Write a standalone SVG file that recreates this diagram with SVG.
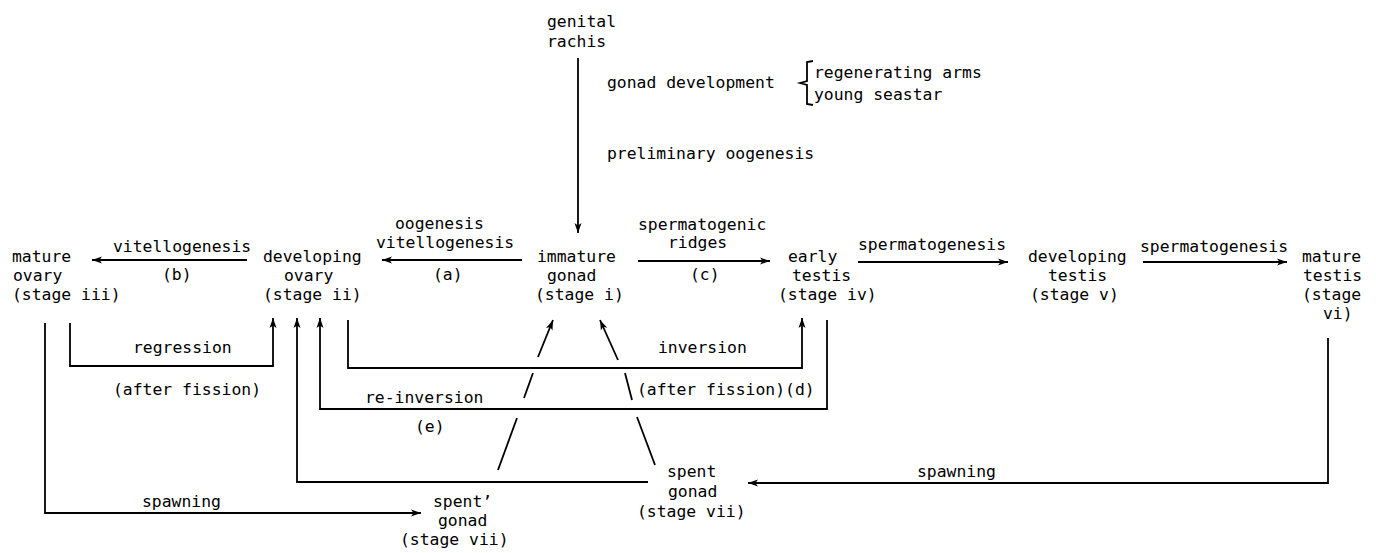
<svg xmlns="http://www.w3.org/2000/svg" width="1376" height="553" viewBox="0 0 1376 553">
<defs>
<marker id="ah" viewBox="0 0 10 8" refX="10" refY="4" markerWidth="10" markerHeight="8" markerUnits="userSpaceOnUse" orient="auto">
<path d="M0,0.5 L10,4 L0,7.5 L2.5,4 z" fill="#000"/>
</marker>
</defs>
<style>
text{font-family:"DejaVu Sans Mono","Liberation Mono",monospace;font-size:16.4px;fill:#000}
.c{fill:none;stroke:#000;stroke-width:1.8}
.a{marker-end:url(#ah)}
</style>
<rect width="1376" height="553" fill="#fff"/>
<g id="connectors">
<line class="c a" x1="578" y1="58" x2="578" y2="233"/>
<line class="c a" x1="247" y1="260" x2="92" y2="260"/>
<line class="c a" x1="522" y1="260" x2="382" y2="260"/>
<line class="c a" x1="638" y1="261" x2="770" y2="261"/>
<line class="c a" x1="858" y1="262" x2="1008" y2="262"/>
<line class="c a" x1="1143" y1="262" x2="1287" y2="262"/>
<path class="c a" d="M70,323 V366 H273 V318"/>
<path class="c a" d="M45,323 V513 H421"/>
<path class="c a" d="M348,320 V368 H802 V318"/>
<path class="c a" d="M827,320 V409 H320 V318"/>
<path class="c a" d="M648,482 H297 V318"/>
<path class="c a" d="M1328,338 V483 H748"/>
<line class="c" x1="498" y1="470" x2="517" y2="418"/>
<line class="c" x1="524" y1="398" x2="533" y2="373"/>
<line class="c a" x1="538" y1="357" x2="553" y2="320"/>
<line class="c" x1="655" y1="465" x2="637" y2="417"/>
<line class="c" x1="632" y1="400" x2="625" y2="373"/>
<line class="c a" x1="618" y1="360" x2="600" y2="320"/>
<path class="c" d="M813,61 L807,62 L807,81 L800,83 L807,85 L807,104 L813,105"/>
</g>
<g id="labels">
<text x="607" y="88">gonad development</text>
<text x="814" y="78">regenerating arms</text>
<text x="814" y="100">young seastar</text>
<text x="607" y="159">preliminary oogenesis</text>
<text x="113" y="252">vitellogenesis</text>
<text x="162" y="280">(b)</text>
<text x="395" y="229">oogenesis</text>
<text x="376" y="248">vitellogenesis</text>
<text x="433" y="280">(a)</text>
<text x="638" y="230">spermatogenic</text>
<text x="668" y="248">ridges</text>
<text x="690" y="280">(c)</text>
<text x="858" y="250">spermatogenesis</text>
<text x="1140" y="252">spermatogenesis</text>
<text x="133" y="353">regression</text>
<text x="113" y="395">(after fission)</text>
<text x="658" y="353">inversion</text>
<text x="637" y="395">(after fission)(d)</text>
<text x="365" y="403">re-inversion</text>
<text x="415" y="432">(e)</text>
<text x="142" y="507">spawning</text>
<text x="917" y="477">spawning</text>
</g>
<g id="genital-rachis">
<text x="547" y="27">genital</text>
<text x="547" y="47">rachis</text>
</g>
<g id="mature-ovary">
<text x="12" y="262">mature</text>
<text x="13" y="281">ovary</text>
<text x="12" y="300">(stage iii)</text>
</g>
<g id="developing-ovary">
<text x="263" y="262">developing</text>
<text x="284" y="281">ovary</text>
<text x="263" y="300">(stage ii)</text>
</g>
<g id="immature-gonad">
<text x="537" y="262">immature</text>
<text x="547" y="281">gonad</text>
<text x="535" y="300">(stage i)</text>
</g>
<g id="early-testis">
<text x="788" y="262">early</text>
<text x="792" y="281">testis</text>
<text x="778" y="300">(stage iv)</text>
</g>
<g id="developing-testis">
<text x="1028" y="262">developing</text>
<text x="1048" y="281">testis</text>
<text x="1030" y="300">(stage v)</text>
</g>
<g id="mature-testis">
<text x="1302" y="262">mature</text>
<text x="1303" y="281">testis</text>
<text x="1302" y="300">(stage</text>
<text x="1323" y="319">vi)</text>
</g>
<g id="spent-prime-gonad">
<text x="433" y="507">spent’</text>
<text x="438" y="526">gonad</text>
<text x="400" y="545">(stage vii)</text>
</g>
<g id="spent-gonad">
<text x="667" y="477">spent</text>
<text x="668" y="497">gonad</text>
<text x="637" y="517">(stage vii)</text>
</g>
</svg>
